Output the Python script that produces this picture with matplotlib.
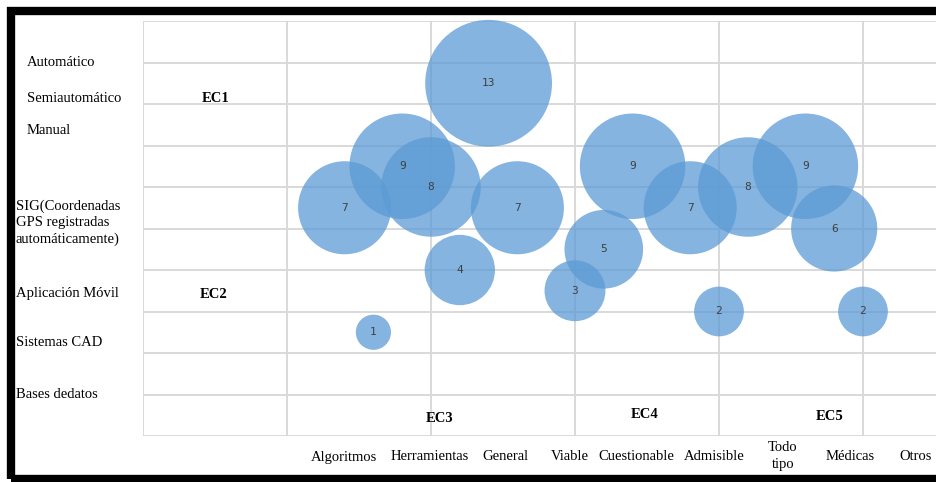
import matplotlib
matplotlib.use("Agg")
import matplotlib.pyplot as plt
from matplotlib.patches import Rectangle

# ---- data ----
bubble_x = [1.4, 1.8, 2.0, 2.4, 2.6, 2.2, 1.6, 3.0, 3.2, 3.4, 3.8, 4.0, 4.2, 4.6, 4.8, 5.0]
bubble_y = [5.5, 6.5, 6.0, 8.5, 5.5, 4.0, 2.5, 3.5, 4.5, 6.5, 5.5, 3.0, 6.0, 6.5, 5.0, 3.0]
bubble_size = [7, 9, 8, 13, 7, 4, 1, 3, 5, 9, 7, 2, 8, 9, 6, 2]

row_labels = ["Automático", "Semiautomático", "Manual",
              "SIG(Coordenadas\nGPS registradas\nautomáticamente)",
              "Aplicación Móvil", "Sistemas CAD", "Bases dedatos"]
col_labels = ["Algoritmos", "Herramientas", "General", "Viable", "Cuestionable",
              "Admisible", "Todo\ntipo", "Médicas", "Otros"]
group_labels = ["EC1", "EC2", "EC3", "EC4", "EC5"]

# ---- layout ----
W, H = 936, 482
fig = plt.figure(figsize=(W / 100, H / 100), dpi=100)
fig.patch.set_facecolor("white")

def fx(x):
    return x / W

def fy(y):
    return 1 - y / H

left, right, top, bottom = 143, 936, 21, 436
ax = fig.add_axes([fx(left), fy(bottom), (right - left) / W, (bottom - top) / H])
xunit = 144.0
ax.set_xlim(0, (right - left) / xunit)
ax.set_ylim(0, 10)
ax.set_xticks(range(0, 6))
ax.set_yticks(range(0, 11))
ax.tick_params(length=0, labelbottom=False, labelleft=False)
for s in ax.spines.values():
    s.set_visible(False)
ax.grid(True, color="#D9D9D9", linewidth=1.4)
ax.set_axisbelow(True)

ax.scatter(bubble_x, bubble_y, s=[641 * v for v in bubble_size],
           color="#5B9BD5", alpha=0.75, linewidths=0, clip_on=False, zorder=3)
for x, y, v in zip(bubble_x, bubble_y, bubble_size):
    ax.text(x, y, str(v), ha="center", va="center", fontsize=8,
            family="DejaVu Sans Mono", color="#404040", zorder=4)

serif = "Liberation Serif"
fs = 10.5

# row labels
row_pos = [(27, 63), (27, 98), (27, 131), (16, 223), (16, 293), (16, 342), (16, 394)]
for (px, py), lab in zip(row_pos, row_labels):
    fig.text(fx(px), fy(py), lab, ha="left", va="center", fontsize=fs,
             family=serif, linespacing=1.32)

# column labels
col_pos = [344, 430, 505, 570, 636, 714, 783, 850, 916]
for px, lab in zip(col_pos, col_labels):
    multi = "\n" in lab
    yy = 456 if multi else 457
    fig.text(fx(px), fy(yy), lab, ha="center", va="center", fontsize=fs,
             family=serif, linespacing=1.45)

# group labels
grp_pos = [(216, 98), (214, 294), (440, 418), (645, 415), (830, 417)]
for (px, py), lab in zip(grp_pos, group_labels):
    fig.text(fx(px), fy(py), lab, ha="center", va="center", fontsize=fs,
             family=serif, fontweight="bold")

# frame
fig.patches.append(Rectangle((fx(11), fy(479)), fx(1000), fy(11) - fy(479),
                             transform=fig.transFigure, fill=False,
                             edgecolor="black", linewidth=6, zorder=10))

fig.savefig("out.png", dpi=100, facecolor="white")
